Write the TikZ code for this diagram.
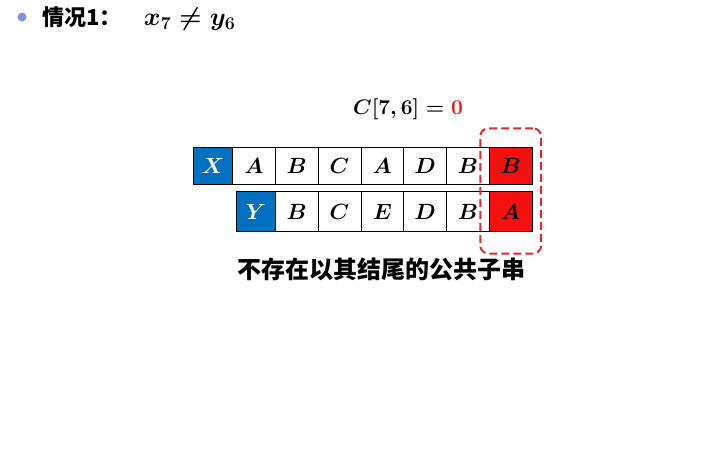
\RequirePackage{fix-cm}
\documentclass[tikz,border=0pt]{standalone}
\usepackage{fontspec}
\usepackage{amsmath,amssymb}
\usetikzlibrary{positioning,fit}
\newfontfamily\cjkfont{Noto Sans CJK SC}
\definecolor{cellblue}{HTML}{0070C0}
\definecolor{cellred}{HTML}{F50F0F}
\definecolor{dashred}{HTML}{E3262B}
\definecolor{dotblue}{HTML}{7F93DE}

\begin{document}
\begin{tikzpicture}[x=1pt,y=-1pt,
cell/.style={rectangle, draw=black, line width=0.8pt, minimum width=42.8pt, minimum height=37pt, inner sep=0pt, outer sep=0pt, font=\fontsize{22}{24}\selectfont\boldmath},
headcell/.style={cell, fill=cellblue, text=white, minimum width=39pt},
lastcell/.style={cell, fill=cellred},
lowcell/.style={minimum height=40pt},
cjktext/.style={font=\cjkfont\bfseries\fontsize{#1}{#1}\selectfont}
]
\useasboundingbox (0,0) rectangle (713,463);
% title line
\node[circle, fill=dotblue, minimum size=9pt, inner sep=0pt] (dot) at (22,17) {};
\node[anchor=west, cjktext=22] (title) at (39,17) {情况1：};
\node[anchor=base west, font=\fontsize{25.5}{28}\selectfont\boldmath, xshift=15pt] (cond) at (title.base east) {$x_7\neq y_6$};
% value
\node[font=\fontsize{21}{24}\selectfont\boldmath] (cval) at (408,109) {$C[7,6]=\textcolor{cellred}{0}$};
% sequence X
\node[headcell] (x0) at (213,165.8) {$X$};
\node[cell, right=0pt of x0] (x1) {$A$};
\node[cell, right=0pt of x1] (x2) {$B$};
\node[cell, right=0pt of x2] (x3) {$C$};
\node[cell, right=0pt of x3] (x4) {$A$};
\node[cell, right=0pt of x4] (x5) {$D$};
\node[cell, right=0pt of x5] (x6) {$B$};
\node[lastcell, right=0pt of x6] (x7) {$B$};
% sequence Y
\node[headcell, lowcell] (y0) at (255.8,211.5) {$Y$};
\node[cell, lowcell, right=0pt of y0] (y1) {$B$};
\node[cell, lowcell, right=0pt of y1] (y2) {$C$};
\node[cell, lowcell, right=0pt of y2] (y3) {$E$};
\node[cell, lowcell, right=0pt of y3] (y4) {$D$};
\node[cell, lowcell, right=0pt of y4] (y5) {$B$};
\node[lastcell, lowcell, right=0pt of y5] (y6) {$A$};
% last column
\node[draw=dashred, dash pattern=on 8pt off 4pt, line width=2pt, rounded corners=8pt, fit=(x7)(y6), inner xsep=9pt, inner ysep=20.5pt, yshift=-1.5pt] (box) {};
\node[cjktext=24] (note) at (381,269) {不存在以其结尾的公共子串};
\end{tikzpicture}
\end{document}
